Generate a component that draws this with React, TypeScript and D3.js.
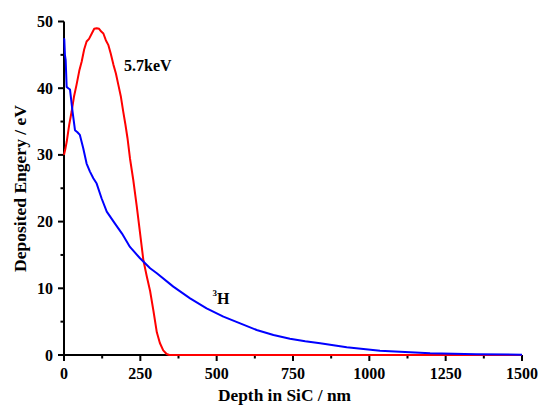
import * as d3 from 'd3';

// 5.7 keV electron curve
const redDepth = [0, 4, 9, 17, 25, 33, 41, 50, 58, 66, 74, 82, 91, 99, 107, 115, 122, 129, 137, 145, 153, 162, 170, 178, 186, 194, 201, 208, 216, 227, 238, 249, 260, 271, 282, 293, 304, 314, 325, 336, 345, 400, 600, 800, 1000, 1250, 1500];
const redValue = [30, 30.8, 32, 34.5, 36.5, 38.8, 40.5, 42.6, 44, 45.8, 47, 47.4, 48.2, 48.9, 49, 48.9, 48.5, 48.2, 47.2, 46.5, 45.2, 43.5, 42.2, 40.5, 38.8, 36.5, 34.6, 32.5, 29.5, 26.2, 22.4, 18.3, 14.2, 11.8, 9.6, 6.6, 3.4, 1.8, 0.7, 0.15, 0, 0, 0, 0, 0, 0, 0];

// 3H beta curve
const blueDepth = [0, 1, 3, 5.5, 8.7, 14, 19.7, 28, 36, 44, 52, 63, 74, 85, 96, 107, 123, 140, 167, 190, 216, 249, 282, 304, 358, 413, 467, 522, 577, 631, 686, 740, 790, 839, 926, 1035, 1199, 1350, 1500];
const blueValue = [47.5, 47.3, 45, 44.2, 40.2, 40, 39.8, 36.5, 33.7, 33.4, 33, 31, 28.7, 27.5, 26.5, 25.7, 23.5, 21.5, 19.7, 18.2, 16.2, 14.5, 13, 12.25, 10.25, 8.5, 7.0, 5.75, 4.75, 3.75, 3.0, 2.45, 2.05, 1.75, 1.15, 0.65, 0.28, 0.12, 0.05];

const xMajor = [0, 250, 500, 750, 1000, 1250, 1500];
const xMinor = [125, 375, 625, 875, 1125, 1375];
const yMajor = [0, 10, 20, 30, 40, 50];
const yMinor = [5, 15, 25, 35, 45];

const W = 550;
const H = 417;
const FONT = 'Liberation Serif';
const AXIS = 'black';
const LW = 2;

export default function App() {
  const x = d3.scaleLinear().domain([0, 1500]).range([64, 522]);
  const y = d3.scaleLinear().domain([0, 50]).range([355, 21.5]);

  const line = d3.line<[number, number]>().x(d => x(d[0])).y(d => y(d[1]));
  const redPts = redDepth.map((d, i) => [d, redValue[i]] as [number, number]);
  const bluePts = blueDepth.map((d, i) => [d, blueValue[i]] as [number, number]);

  const x0 = x(0);
  const y0 = y(0);

  return (
    <svg
      width={W}
      height={H}
      style={{ position: 'absolute', left: 0, top: 0, background: '#fff', fontFamily: FONT, fontWeight: 'bold', fontSize: '16px' }}
    >
      {/* axis lines drawn as filled rects */}
      <g fill={AXIS}>
        <rect x={x0 - LW / 2} y={y(50)} width={LW} height={y0 - y(50) + LW / 2} />
        <rect x={x0 - LW / 2} y={y0 - LW / 2} width={x(1500) - x0 + LW / 2} height={LW} />
        {xMajor.map(v => (
          <rect key={'xM' + v} x={x(v) - LW / 2} y={y0} width={LW} height={6} />
        ))}
        {xMinor.map(v => (
          <rect key={'xm' + v} x={x(v) - LW / 2} y={y0} width={LW} height={3.5} />
        ))}
        {yMajor.map(v => (
          <rect key={'yM' + v} x={x0 - 6} y={y(v) - LW / 2} width={6} height={LW} />
        ))}
        {yMinor.map(v => (
          <rect key={'ym' + v} x={x0 - 3.5} y={y(v) - LW / 2} width={3.5} height={LW} />
        ))}
      </g>

      {xMajor.map(v => (
        <text key={'xl' + v} x={x(v)} y={379} textAnchor="middle" fill="#000">{v}</text>
      ))}
      {yMajor.map(v => (
        <text key={'yl' + v} x={53} y={y(v) + 5.5} textAnchor="end" fill="#000">{v}</text>
      ))}

      {/* curves */}
      <path d={line(redPts) ?? ''} fill="none" stroke="#ff0000" strokeWidth="2" strokeLinejoin="round" />
      <path d={line(bluePts) ?? ''} fill="none" stroke="#0000ff" strokeWidth="2" strokeLinejoin="round" />

      {/* curve labels */}
      <text x={124} y={71}>5.7keV</text>
      <text x={212.5} y={304}>
        <tspan fontSize="9px" dy={-8}>3</tspan>
        <tspan dy={8}>H</tspan>
      </text>

      {/* axis titles */}
      <text x={284.5} y={400.5} textAnchor="middle" textLength={133} lengthAdjust="spacingAndGlyphs">
        Depth in SiC / nm
      </text>
      <text
        transform="translate(25.5,188.5) rotate(-90)"
        textAnchor="middle"
        textLength={167}
        lengthAdjust="spacingAndGlyphs"
      >
        Deposited Engery / eV
      </text>
    </svg>
  );
}
